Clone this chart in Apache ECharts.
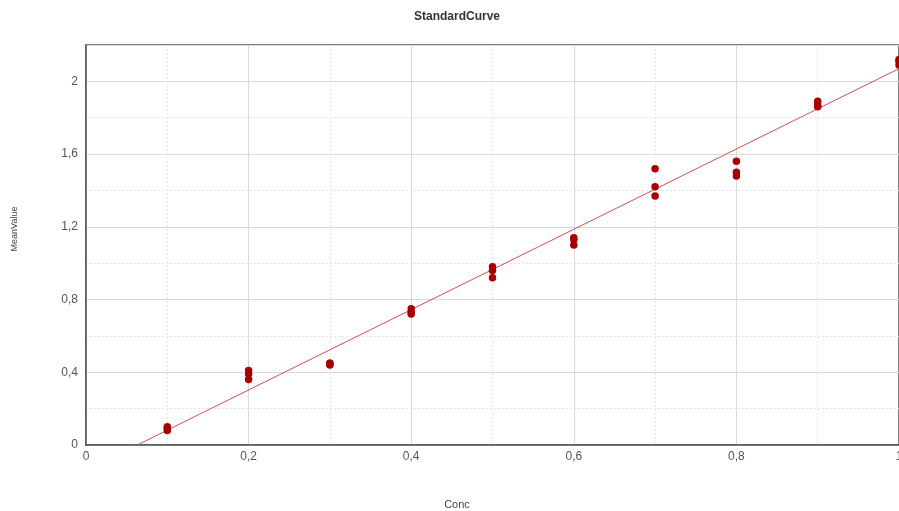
<!DOCTYPE html>
<html>
<head>
<meta charset="utf-8">
<script src="https://cdn.jsdelivr.net/npm/echarts@6/dist/echarts.min.js"></script>
<style>
  html, body { margin: 0; padding: 0; background: #fff; }
  #chart { width: 899px; height: 511px; }
</style>
</head>
<body>
<div id="chart"></div>
<script>
// Concentrations of the standards (three replicates each)
const conc = [0.1, 0.2, 0.3, 0.4, 0.5, 0.6, 0.7, 0.8, 0.9, 1.0];
const replicate1 = [0.10, 0.41, 0.45, 0.75, 0.98, 1.14, 1.52, 1.56, 1.89, 2.12];
const replicate2 = [0.09, 0.39, 0.45, 0.73, 0.96, 1.13, 1.42, 1.50, 1.87, 2.11];
const replicate3 = [0.08, 0.36, 0.44, 0.72, 0.92, 1.10, 1.37, 1.48, 1.86, 2.09];

// Fitted standard curve end points (conc, mean value)
const fitConc = [0.063, 1.0];
const fitValue = [0, 2.07];

const xTicks = [0, 0.2, 0.4, 0.6, 0.8, 1];
const yTicks = [0, 0.4, 0.8, 1.2, 1.6, 2];

const points = [];
[replicate1, replicate2, replicate3].forEach(rep => {
  conc.forEach((c, i) => points.push([c, rep[i]]));
});
const fitLine = fitConc.map((c, i) => [c, fitValue[i]]);

const fmt = v => String(Math.round(v * 10) / 10).replace('.', ',');
const font = 'Liberation Sans, Arial, sans-serif';

const chart = echarts.init(document.getElementById('chart'));
chart.setOption({
  animation: false,
  backgroundColor: '#fff',
  grid: {
    left: 86, right: 0, top: 45, bottom: 66,
    outerBoundsMode: 'none', containLabel: false,
    show: true, borderColor: '#555', borderWidth: 1.5
  },
  xAxis: {
    type: 'value', min: 0, max: 1, interval: 0.2,
    axisLine: { show: true, lineStyle: { color: '#555', width: 1.5 } },
    axisTick: { show: false },
    axisLabel: {
      color: '#555', fontSize: 12, fontFamily: font, margin: 6,
      formatter: v => xTicks.some(t => Math.abs(t - v) < 1e-9) ? fmt(v) : ''
    },
    splitLine: { show: true, lineStyle: { color: '#dadada', width: 1 } },
    minorTick: { show: false, splitNumber: 2 },
    minorSplitLine: { show: true, lineStyle: { color: '#e4e4e4', type: [2, 2] } }
  },
  yAxis: {
    type: 'value', min: 0, max: 2.2, interval: 0.4,
    axisLine: { show: true, lineStyle: { color: '#555', width: 1.5 } },
    axisTick: { show: false },
    axisLabel: {
      color: '#555', fontSize: 12, fontFamily: font, margin: 8,
      formatter: v => yTicks.some(t => Math.abs(t - v) < 1e-9) ? fmt(v) : ''
    },
    splitLine: { show: true, lineStyle: { color: '#dadada', width: 1 } },
    minorTick: { show: false, splitNumber: 2 },
    minorSplitLine: { show: true, lineStyle: { color: '#e4e4e4', type: [2, 2] } }
  },
  graphic: [
    {
      type: 'text', x: 457, y: 17,
      style: { text: 'StandardCurve', font: 'bold 12px ' + font, fill: '#333', align: 'center', verticalAlign: 'middle' }
    },
    {
      type: 'text', x: 15, y: 229, rotation: Math.PI / 2,
      style: { text: 'MeanValue', font: '9px ' + font, fill: '#444', align: 'center', verticalAlign: 'middle' }
    },
    {
      type: 'text', x: 457, y: 505,
      style: { text: 'Conc', font: '11px ' + font, fill: '#444', align: 'center', verticalAlign: 'middle' }
    }
  ],
  series: [
    {
      type: 'line', data: fitLine, symbol: 'none', silent: true,
      lineStyle: { color: '#d05050', width: 1 }, z: 2
    },
    {
      type: 'scatter', data: points, symbol: 'circle', symbolSize: 7.5,
      itemStyle: { color: '#a80000', opacity: 1 }, z: 3, clip: false
    }
  ]
});
</script>
</body>
</html>
